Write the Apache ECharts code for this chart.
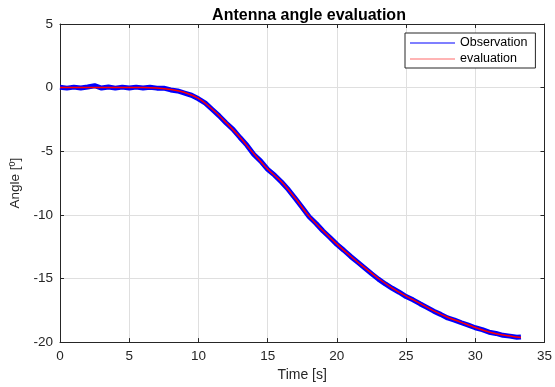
<!DOCTYPE html>
<html>
<head>
<meta charset="utf-8">
<script src="https://cdn.jsdelivr.net/npm/echarts@6/dist/echarts.min.js"></script>
<style>
  html, body { margin: 0; padding: 0; background: #fff; }
  #chart { width: 555px; height: 387px; }
</style>
</head>
<body>
<div id="chart"></div>
<script>
// measured observation (noisy), sampled every 0.5 s
const obsTime = [
  0, 0.5, 1, 1.5, 2, 2.5, 3, 3.5, 4, 4.5, 5, 5.5, 6, 6.5, 7, 7.5, 8, 8.5, 9, 9.5,
  10, 10.5, 11, 11.5, 12, 12.5, 13, 13.5, 14, 14.5, 15, 15.5, 16, 16.5, 17, 17.5,
  18, 18.5, 19, 19.5, 20, 20.5, 21, 21.5, 22, 22.5, 23, 23.5, 24, 24.5, 25, 25.5,
  26, 26.5, 27, 27.5, 28, 28.5, 29, 29.5, 30, 30.5, 31, 31.5, 32, 32.5, 33, 33.3
]
const obsAngle = [
  0.03, -0.04, 0.04, -0.03, 0.05, 0.15, -0.03, 0.05, -0.04, 0.04, -0.03, 0.04, -0.03, 0.03, -0.04, -0.04,
  -0.18, -0.26, -0.43, -0.6, -0.88, -1.22, -1.72, -2.22, -2.78, -3.28, -3.92, -4.52, -5.25, -5.78,
  -6.42, -6.88, -7.42, -8.02, -8.72, -9.42, -10.15, -10.68, -11.27, -11.78, -12.32, -12.78,
  -13.27, -13.72, -14.17, -14.62, -15.05, -15.43, -15.77, -16.08, -16.42, -16.68, -16.98, -17.27,
  -17.57, -17.82, -18.1, -18.27, -18.48, -18.67, -18.87, -19.02, -19.22, -19.32, -19.47, -19.53,
  -19.62, -19.6
]

// model evaluation (smooth)
const evalTime = [
  0, 1, 2, 3, 4, 5, 6, 7, 8, 9, 10, 11, 12, 13, 14, 15, 16, 17, 18, 19, 20,
  21, 22, 23, 24, 25, 26, 27, 28, 29, 30, 31, 32, 33, 33.3
]
const evalAngle = [
  0, 0, 0, 0, 0, 0, 0, -0.03, -0.15, -0.38, -0.85, -1.7, -2.75, -3.9, -5.2, -6.4, -7.4,
  -8.7, -10.12, -11.25, -12.3, -13.25, -14.15, -15.0, -15.75, -16.38, -16.95, -17.55,
  -18.05, -18.45, -18.85, -19.2, -19.45, -19.6, -19.63
]

const seriesNames = ['Observation', 'evaluation']
const xTicks = { min: 0, max: 35, interval: 5 }
const yTicks = { min: -20, max: 5, interval: 5 }

const ink = '#262626'
const gridColor = '#dfdfdf'

function zipPairs(xs, ys) {
  return xs.map((x, i) => [x, ys[i]])
}

const chart = echarts.init(document.getElementById('chart'), null, { renderer: 'canvas' })

const baseAxis = {
  type: 'value',
  axisLine: { show: true, onZero: false, lineStyle: { color: ink, width: 1 } },
  axisTick: { show: true, inside: true, length: 4, lineStyle: { color: ink } },
}

chart.setOption({
  animation: false,
  backgroundColor: '#ffffff',
  textStyle: { fontFamily: 'Liberation Sans, Arial, sans-serif' },
  title: {
    text: 'Antenna angle evaluation',
    left: 304,
    top: 3,
    textAlign: 'center',
    textStyle: { fontSize: 16, fontWeight: 'bold', color: '#000', fontFamily: 'Liberation Sans, Arial, sans-serif' },
  },
  grid: { left: 59, right: 6, top: 24, bottom: 44, containLabel: false },
  legend: {
    show: true,
    orient: 'vertical',
    left: 405,
    top: 33,
    padding: [3, 8, 2, 5],
    itemGap: 2,
    itemWidth: 45,
    itemHeight: 1.2,
    borderColor: ink,
    borderWidth: 1,
    borderRadius: 0,
    backgroundColor: '#fff',
    textStyle: { fontSize: 12.5, color: '#000', lineHeight: 14 },
    data: [
      { name: seriesNames[0], icon: 'rect', itemStyle: { color: '#0000ff', borderWidth: 0 } },
      { name: seriesNames[1], icon: 'rect', itemStyle: { color: '#ff6b6b', borderWidth: 0 } },
    ],
  },
  xAxis: [
    {
      ...baseAxis,
      position: 'bottom',
      min: xTicks.min, max: xTicks.max, interval: xTicks.interval,
      name: 'Time [s]',
      nameLocation: 'middle',
      nameGap: 25,
      nameTextStyle: { fontSize: 14, color: ink },
      axisLabel: { margin: 7, fontSize: 13.5, color: ink },
      splitLine: { show: true, lineStyle: { color: gridColor, width: 1 } },
    },
    {
      ...baseAxis,
      position: 'top',
      min: xTicks.min, max: xTicks.max, interval: xTicks.interval,
      axisLabel: { show: false },
      splitLine: { show: false },
    },
  ],
  yAxis: [
    {
      ...baseAxis,
      position: 'left',
      min: yTicks.min, max: yTicks.max, interval: yTicks.interval,
      name: 'Angle [{sup|0}]',
      nameLocation: 'middle',
      nameGap: 37,
      nameRotate: 90,
      nameTextStyle: {
        fontSize: 13.5,
        color: ink,
        rich: { sup: { fontSize: 9, color: ink, verticalAlign: 'top', padding: [0, 0, 6, 0] } },
      },
      axisLabel: { margin: 7, fontSize: 13.5, color: ink },
      splitLine: { show: true, lineStyle: { color: gridColor, width: 1 } },
    },
    {
      ...baseAxis,
      position: 'right',
      min: yTicks.min, max: yTicks.max, interval: yTicks.interval,
      axisLabel: { show: false },
      splitLine: { show: false },
    },
  ],
  series: [
    {
      name: seriesNames[0],
      type: 'line',
      xAxisIndex: 0,
      yAxisIndex: 0,
      data: zipPairs(obsTime, obsAngle),
      showSymbol: false,
      symbol: 'none',
      lineStyle: { color: '#0000ff', width: 5 },
      itemStyle: { color: '#0000ff' },
      z: 2,
    },
    {
      name: seriesNames[1],
      type: 'line',
      xAxisIndex: 0,
      yAxisIndex: 0,
      data: zipPairs(evalTime, evalAngle),
      showSymbol: false,
      symbol: 'none',
      smooth: 0.3,
      lineStyle: { color: '#ff0000', width: 1.5 },
      itemStyle: { color: '#ff0000' },
      z: 3,
    },
  ],
})
</script>
</body>
</html>
